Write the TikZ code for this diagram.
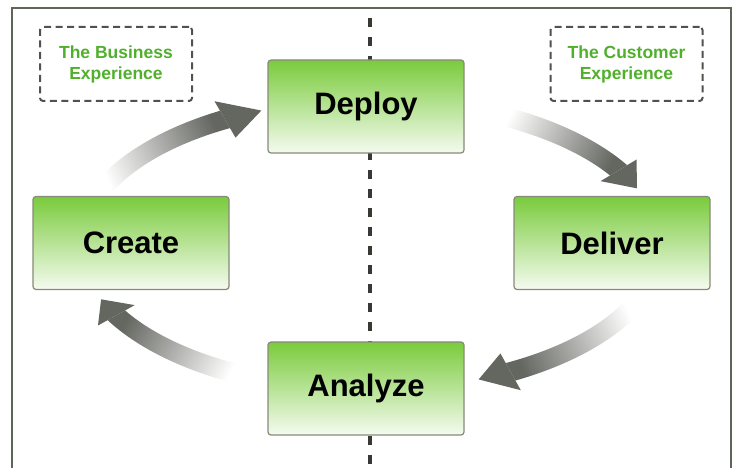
\documentclass[tikz,border=0pt]{standalone}
\usepackage{fontspec}
\setmainfont{Liberation Sans}
\definecolor{framegray}{RGB}{94,102,90}
\definecolor{dashgray}{RGB}{80,82,76}
\definecolor{boxedge}{RGB}{135,138,120}
\definecolor{boxtop}{RGB}{122,203,60}
\definecolor{boxbottom}{RGB}{245,251,240}
\definecolor{labelgreen}{RGB}{80,176,44}
\definecolor{arrowgray}{RGB}{100,102,96}

\begin{document}
\begin{tikzpicture}[x=1pt,y=1pt]

        \useasboundingbox (0,0) rectangle (736,468);
        \coordinate (hub) at (370,223);

        \draw[framegray,line width=2.5pt] (12,-5) -- (12,460) -- (731,460) -- (731,-5);
        \draw[dashgray!70!black,line width=3.5pt,dash pattern=on 9pt off 10pt] (370,450) -- (370,0);

        \begin{scope}[shift={(hub)}]
          \foreach \ta/\tb/\tc/\sa in {158/120/112/-66, 64/31/23/-117, -24/-61/-68/113, -116/-151/-158/63}{
            \shade[top color=arrowgray, middle color=arrowgray!60, bottom color=white, shading angle=\sa]
              ({300*cos(\ta)},{155*sin(\ta)}) arc[start angle=\ta, end angle=\tb, x radius=300, y radius=155]
              -- ({280*cos(\tb)},{135*sin(\tb)}) arc[start angle=\tb, end angle=\ta, x radius=280, y radius=135]
              -- cycle;
            \fill[arrowgray] ({311*cos(\tb)},{166*sin(\tb)}) -- ({290*cos(\tc)},{145*sin(\tc)})
              -- ({269*cos(\tb)},{124*sin(\tb)}) -- cycle;
          }
        \end{scope}

        \begin{scope}[every node/.style={draw=boxedge,line width=1.2pt,rounded corners=3pt,
            top color=boxtop,bottom color=boxbottom,minimum width=196pt,minimum height=93pt,
            font=\fontsize{31}{36}\selectfont\bfseries}]
          \node (deploy)  at (366,361.5) {Deploy};
          \node (create)  at (131,225)   {Create};
          \node (deliver) at (612,225)   {Deliver};
          \node (analyze) at (366,79.5)  {Analyze};
        \end{scope}

        \begin{scope}[every node/.style={draw=dashgray,line width=2pt,dash pattern=on 7pt off 4.5pt,
            rounded corners=3pt,minimum width=152pt,minimum height=74pt,align=center,
            text=labelgreen,font=\fontsize{17.5}{21}\selectfont\bfseries}]
          \node (business) at (116,404)   {The Business\\Experience};
          \node (customer) at (626.5,404) {The Customer\\Experience};
        \end{scope}

      \end{tikzpicture}
\end{document}
